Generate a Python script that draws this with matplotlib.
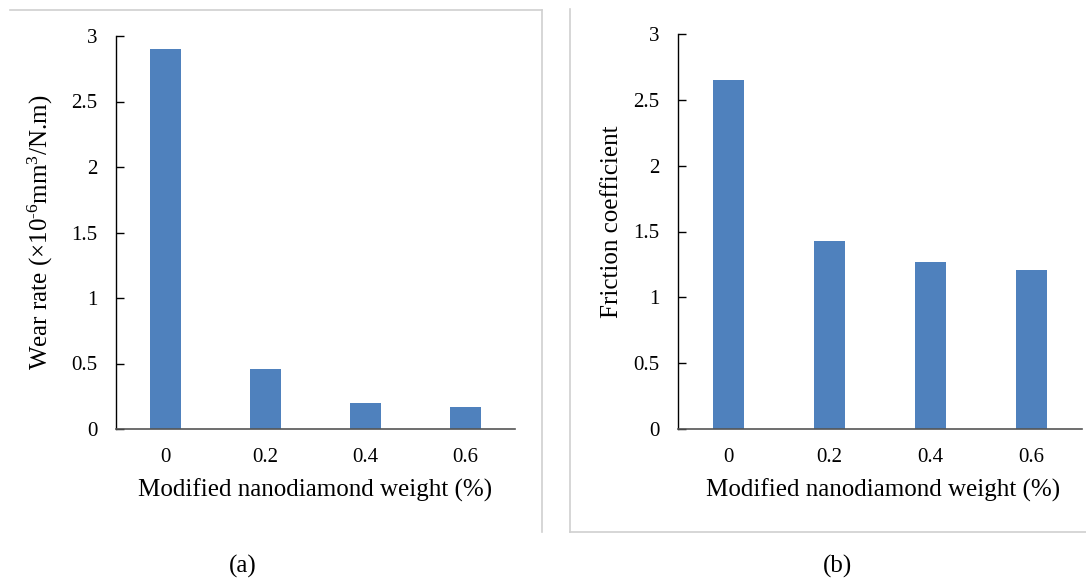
import matplotlib.pyplot as plt
import numpy as np
from matplotlib.lines import Line2D

plt.rcParams['font.family'] = ['Liberation Serif', 'DejaVu Serif']
plt.rcParams['mathtext.fontset'] = 'custom'
plt.rcParams['mathtext.rm'] = 'Liberation Serif'
plt.rcParams['mathtext.it'] = 'Liberation Serif:italic'

# data
weights = ['0', '0.2', '0.4', '0.6']
wear_rate = [2.90, 0.46, 0.20, 0.17]
friction = [2.65, 1.43, 1.27, 1.21]
y_ticks = [0, 0.5, 1, 1.5, 2, 2.5, 3]

W, H = 1086, 580
fig = plt.figure(figsize=(W / 100, H / 100), dpi=100)
fig.patch.set_facecolor('white')

bar_color = '#4F81BD'
frame_color = '#D0D0D0'


def px(x0, y_top, x1, y_bot):
    return [x0 / W, 1 - y_bot / H, (x1 - x0) / W, (y_bot - y_top) / H]


def style_axis(ax, values, ylabel, ylab_xy, xlab_x):
    x = np.arange(len(weights))
    ax.bar(x, values, width=0.31, color=bar_color, edgecolor='none')
    ax.set_xlim(-0.5, len(weights) - 0.5)
    ax.set_ylim(0, 3)
    ax.set_yticks(y_ticks)
    ax.set_yticklabels(['%g' % t for t in y_ticks])
    ax.set_xticks(x)
    ax.set_xticklabels(weights)
    for s in ['top', 'right']:
        ax.spines[s].set_visible(False)
    ax.spines['left'].set_color('black')
    ax.spines['bottom'].set_color('#555555')
    ax.spines['left'].set_linewidth(1.0)
    ax.spines['bottom'].set_linewidth(1.2)
    ax.tick_params(axis='y', direction='in', length=6, width=1.0,
                   labelsize=15, pad=13.5, colors='black')
    ax.tick_params(axis='x', length=0, labelsize=15, pad=14)
    ax.set_ylabel(ylabel, fontsize=18)
    ax.yaxis.set_label_coords(*ylab_xy)
    ax.yaxis.label.set_va('center')
    ax.set_xlabel('Modified nanodiamond weight (%)', fontsize=18)
    ax.xaxis.set_label_coords(xlab_x, -0.155)
    ax.xaxis.label.set_va('center')


ax1 = fig.add_axes(px(116, 36, 515, 429))
style_axis(ax1, wear_rate,
           r'Wear rate ($\times$10$^{\text{-6}}$mm$^{3}$/N.m)',
           (-0.19, 0.50), 0.499)

ax2 = fig.add_axes(px(678, 34, 1082, 429))
style_axis(ax2, friction, 'Friction coefficient', (-0.163, 0.524), 0.507)

# panel frames
def fline(xs, ys):
    fig.add_artist(Line2D([v / W for v in xs], [1 - v / H for v in ys],
                          color=frame_color, linewidth=1.2))

fline([10, 542], [10, 10])
fline([542, 542], [10, 532])
fline([570, 570], [9, 532])
fline([570, 1086], [532, 532])

fig.text(243 / W, 1 - 566 / H, '(a)', fontsize=18, ha='center', va='center')
fig.text(838 / W, 1 - 566 / H, '(b)', fontsize=18, ha='center', va='center')

fig.savefig('out.png', dpi=100)
